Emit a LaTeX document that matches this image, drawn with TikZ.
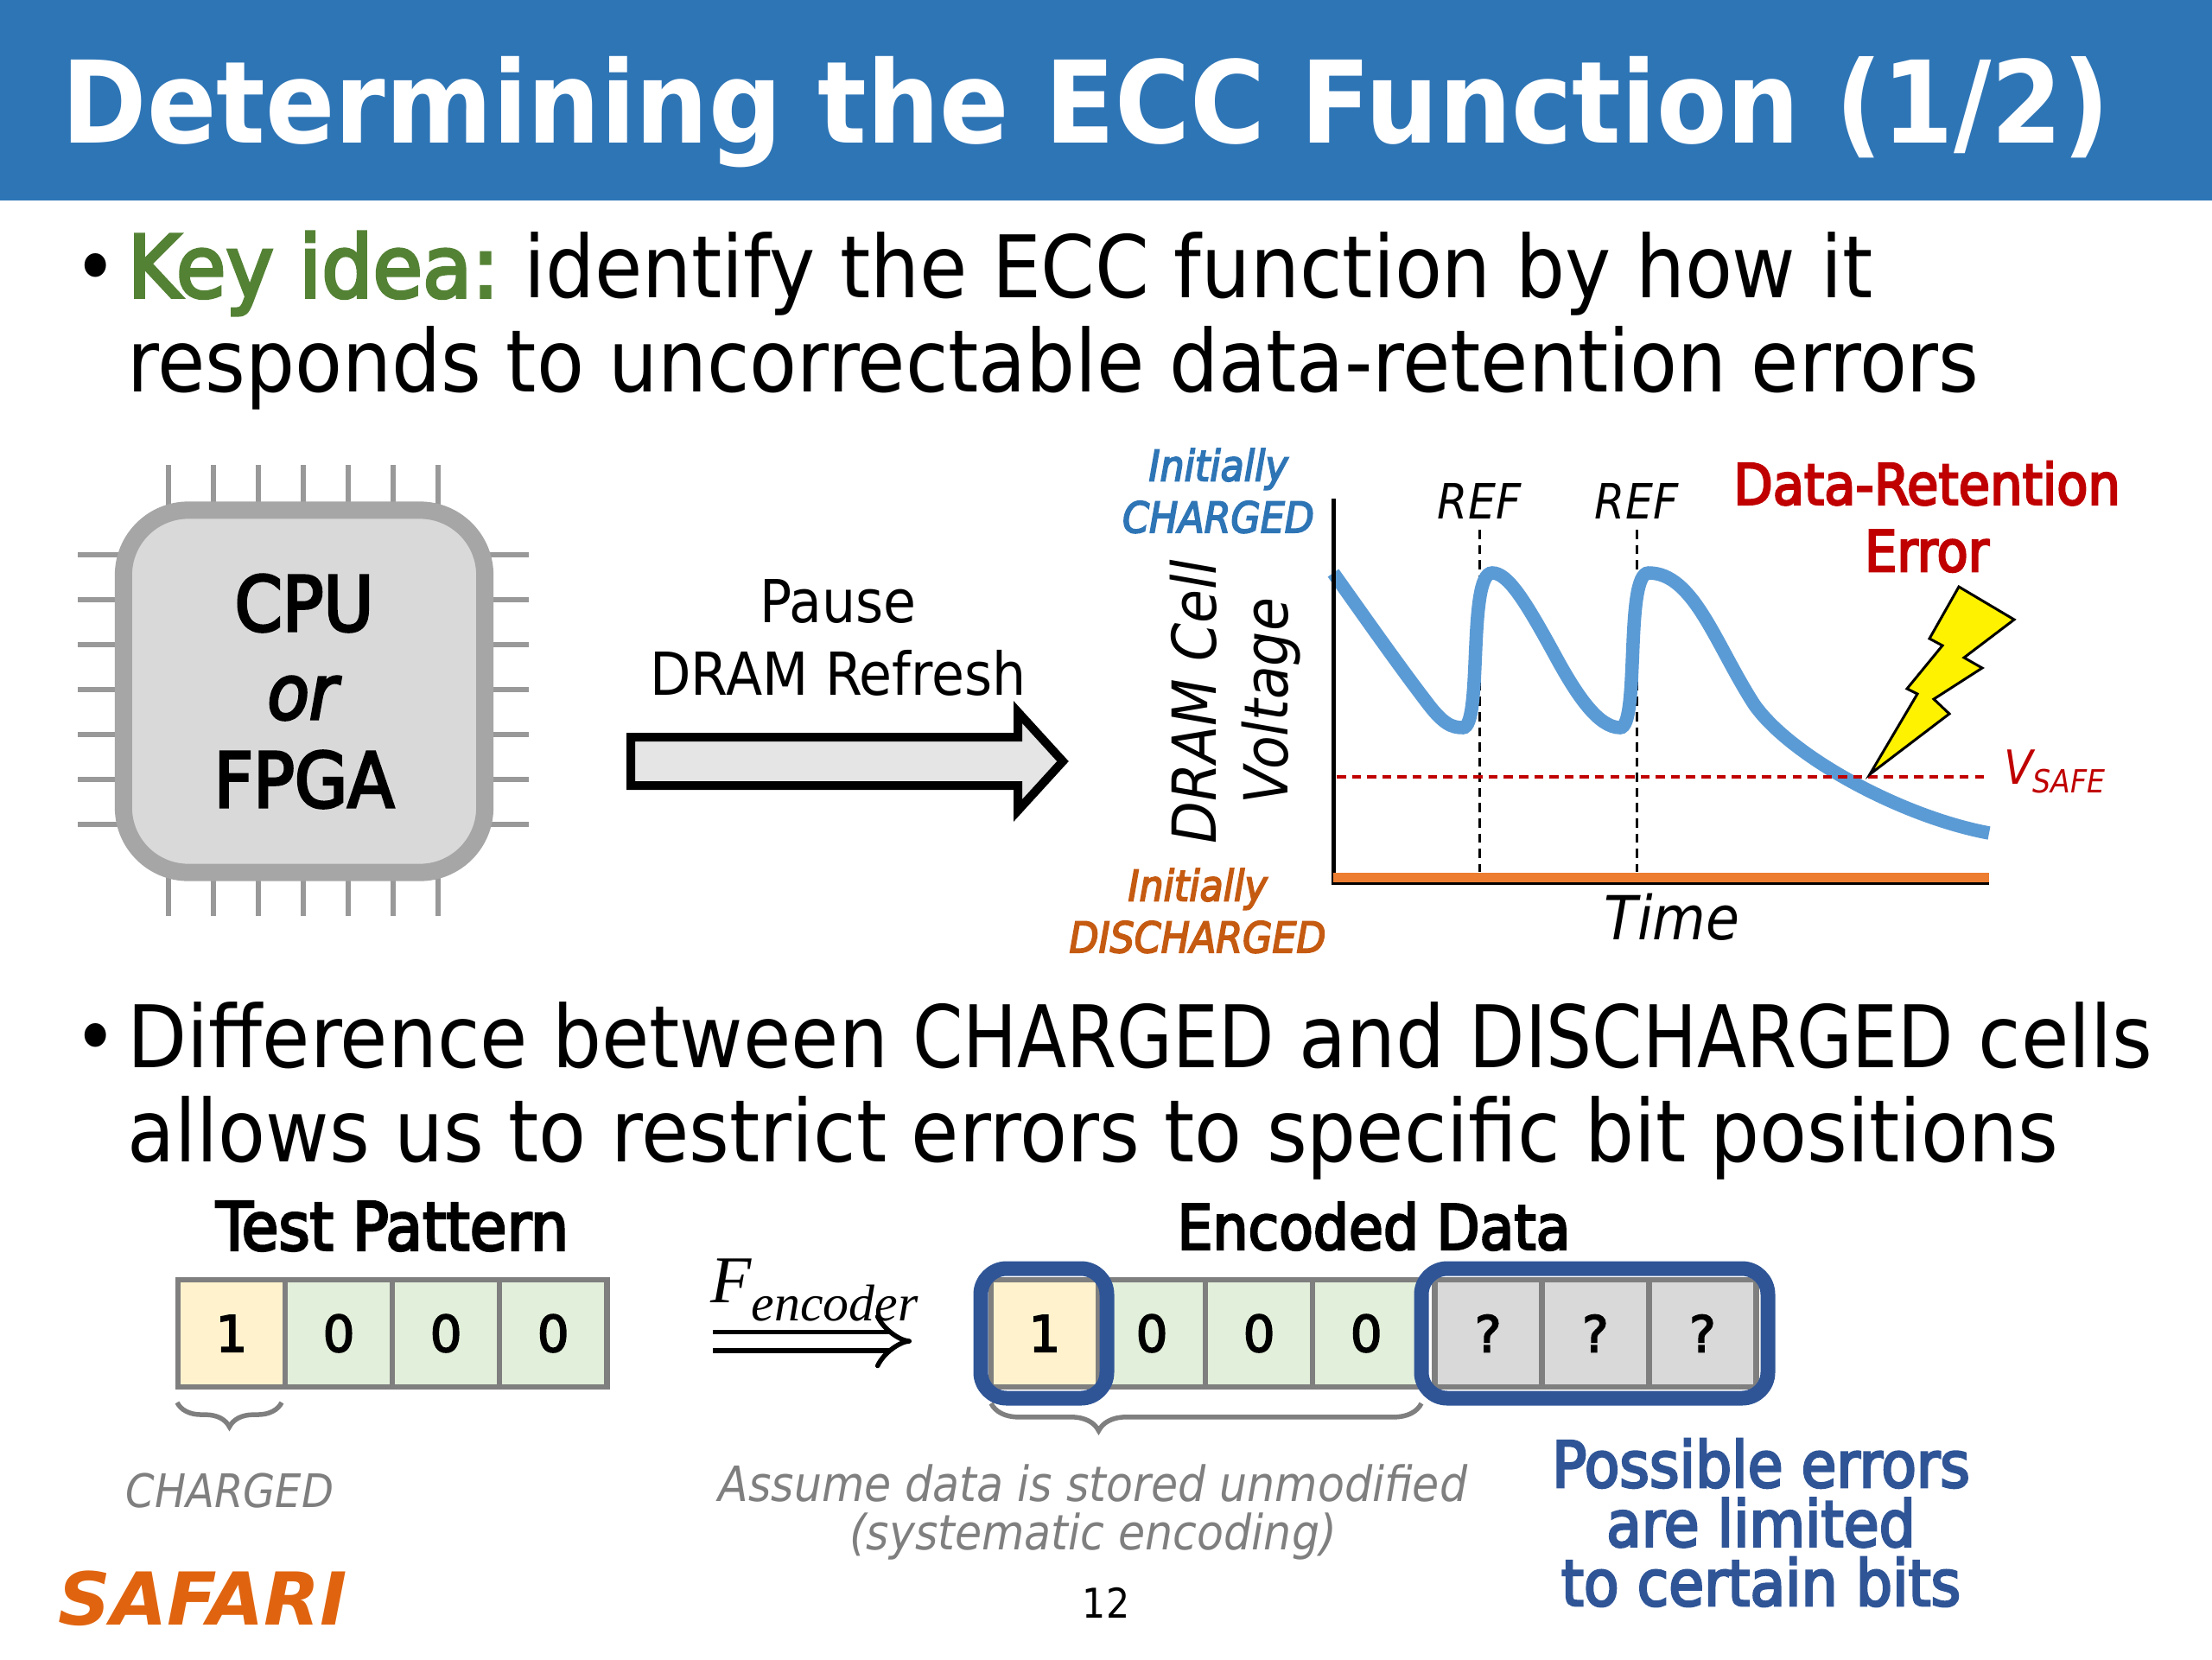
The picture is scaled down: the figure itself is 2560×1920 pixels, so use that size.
\documentclass[tikz,border=0pt]{standalone}
\usepackage{xcolor}
\usepackage{graphicx}
\usepackage{fontspec}
\usepackage{tikz}
\usetikzlibrary{arrows.meta, positioning, decorations.pathreplacing}
\setmainfont{DejaVu Sans Condensed}[BoldFont={DejaVu Sans Condensed},BoldFeatures={FakeBold=3.5},ItalicFont={DejaVu Sans Condensed Oblique},BoldItalicFont={DejaVu Sans Condensed Oblique},BoldItalicFeatures={FakeBold=3.5}]
\newfontfamily\widefont{DejaVu Sans}
\newfontfamily\titlefont{DejaVu Sans Condensed Bold}
\newfontfamily\bitfont{DejaVu Sans}[FakeBold=3]
\newfontfamily\serifitalic{Liberation Serif Italic}
\newcommand{\capsword}[1]{\scalebox{0.93}[1]{#1}}
\definecolor{slideblue}{HTML}{2E75B6}
\definecolor{curveblue}{HTML}{5B9BD5}
\definecolor{ringblue}{HTML}{2F5597}
\definecolor{keygreen}{HTML}{548235}
\definecolor{errred}{HTML}{C00000}
\definecolor{lineorange}{HTML}{ED7D31}
\definecolor{textorange}{HTML}{C55A11}
\definecolor{logoorange}{HTML}{E0640F}
\definecolor{cellgray}{HTML}{7F7F7F}
\definecolor{cellone}{HTML}{FFF2CC}
\definecolor{cellzero}{HTML}{E2EFDA}
\definecolor{cellunknown}{HTML}{D9D9D9}

\begin{document}
\begin{tikzpicture}[
    x=0.01cm, y=-0.01cm,
    bullettext/.style={anchor=west, inner sep=0pt, align=left, font=\fontsize{28.4}{31}\selectfont},
    dotmark/.style={font=\fontsize{27}{27}\selectfont},
    pin/.style={draw=gray!80, line width=0.06cm},
    chip/.style={rectangle, rounded corners=0.75cm, draw=black!35, fill=black!15, line width=0.2cm, minimum width=4.18cm, minimum height=4.19cm, align=center, font=\fontsize{25}{29}\selectfont},
    pausetext/.style={align=center, font=\fontsize{19.5}{24}\selectfont},
    chartlabel/.style={align=center, font=\fontsize{14}{17}\selectfont\bfseries\itshape},
    axislabel/.style={font=\fontsize{20}{24}\selectfont\itshape},
    reflabel/.style={font=\fontsize{16}{19}\selectfont\itshape},
    refline/.style={densely dashed, line width=0.03cm},
    heading/.style={font=\fontsize{20.5}{24}\selectfont\bfseries},
    bit/.style={rectangle, draw=cellgray, line width=0.065cm, outer sep=0pt, minimum width=1.24cm, minimum height=1.24cm, inner sep=0pt, font=\bitfont\fontsize{16.5}{20}\selectfont},
    bitone/.style={bit, fill=cellone},
    bitzero/.style={bit, fill=cellzero},
    bitunknown/.style={bit, fill=cellunknown},
    brace/.style={decorate, draw=cellgray, line width=0.055cm},
    ring/.style={draw=ringblue, line width=0.17cm, rounded corners=0.3cm},
    note/.style={text=cellgray, align=center, font=\fontsize{16}{16}\selectfont\itshape}
]
\path[use as bounding box, fill=white] (0,0) rectangle (2560,1920);
\fill[slideblue] (0,0) rectangle (2560,232);
\node[anchor=west, inner sep=0pt, text=white, font=\titlefont\fontsize{37.5}{44}\selectfont] (title) at (71,130) {Determining the ECC Function (1/2)};

\node[dotmark] (dot1) at (111,318) {•};
\node[bullettext] (idea) at (147,371) {\textcolor{keygreen}{\scalebox{1.04}[1]{\textbf{Key idea:}}} identify the ECC function by how it\\responds to uncorrectable data-retention errors};

\foreach \i in {0,...,6} {
    \draw[pin] (195+52*\i,538) -- (195+52*\i,1060);
    \draw[pin] (90,642+52*\i) -- (612,642+52*\i);
}
\node[chip] (cpu) at (352,800) {\textbf{CPU}\\\textbf{\textit{or}}\\\textbf{FPGA}};

\node[pausetext] (pause) at (970,738) {Pause\\DRAM Refresh};
\draw[line width=0.1cm, fill=black!10, miter limit=10] (730,853) -- (1178,853) -- (1178,824) -- (1230,881) -- (1178,938) -- (1178,909) -- (730,909) -- cycle;

\coordinate (axtop) at (1543,577);
\coordinate (axorigin) at (1543,1021);
\coordinate (axend) at (2302,1021);
\coordinate (orangeleft) at (1543,1015);
\coordinate (orangeright) at (2302,1015);
\coordinate (ref1end) at (1712,1009);
\coordinate (ref2end) at (1894,1009);
\coordinate (safeleft) at (1547,899);
\coordinate (saferight) at (2298,899);

\node[reflabel] (ref1) at (1712,580) {REF};
\node[reflabel] (ref2) at (1894,580) {REF};
\draw[refline] (ref1.south) -- (ref1end);
\draw[refline] (ref2.south) -- (ref2end);
\draw[draw=curveblue, line width=0.155cm] (1543,663) .. controls (1575,708) and (1620,772) .. (1650,811) .. controls (1670,838) and (1680,842) .. (1693,842) .. controls (1716,842) and (1698,663) .. (1727,663) .. controls (1745,663) and (1765,695) .. (1800,759) .. controls (1825,805) and (1850,842) .. (1875,842) .. controls (1898,842) and (1880,663) .. (1908,663) .. controls (1960,663) and (1985,745) .. (2030,815) .. controls (2072,875) and (2200,945) .. (2302,964);
\draw[errred, densely dashed, line width=0.035cm] (safeleft) -- (saferight);
\draw[black, line width=0.05cm] (axtop) -- (axorigin) -- (axend);
\draw[lineorange, line width=0.11cm] (orangeleft) -- (orangeright);

\node[chartlabel, text=slideblue] (charged) at (1410,568) {Initially\\CHARGED};
\node[chartlabel, text=textorange] (discharged) at (1386,1054) {Initially\\DISCHARGED};
\node[axislabel, rotate=90] (dramcell) at (1381,812) {DRAM Cell};
\node[axislabel, rotate=90] (voltage) at (1471,811) {Voltage};
\node[axislabel] (time) at (1935,1061) {Time};
\node[align=center, text=errred, font=\fontsize{18.7}{22}\selectfont\bfseries] (dataerr) at (2230,598) {Data-Retention\\Error};
\node[text=errred, font=\fontsize{15.5}{19}\selectfont\itshape] (vsafe) at (2378,893) {V\raisebox{-3pt}{\fontsize{10.5}{13}\selectfont SAFE}};
\draw[fill=yellow, line width=0.03cm, miter limit=10] (2267,679) -- (2331,717) -- (2273,761) -- (2294,773) -- (2238,809) -- (2256,826) -- (2164,896) -- (2219,803) -- (2207,797) -- (2248,747) -- (2233,739) -- cycle;

\node[dotmark] (dot2) at (111,1209) {•};
\node[bullettext] (diff) at (147,1262) {Difference between \capsword{CHARGED} and \capsword{DISCHARGED} cells\\allows us to restrict errors to specific bit positions};

\node[bitone] (t1) at (268,1543) {1};
\node[bitzero, right=0pt of t1] (t2) {0};
\node[bitzero, right=0pt of t2] (t3) {0};
\node[bitzero, right=0pt of t3] (t4) {0};
\node[heading, font=\fontsize{22}{24}\selectfont\bfseries] (testpat) at (454,1419) {Test Pattern};
\draw[brace, decoration={brace, mirror, amplitude=8pt}] (205,1623) -- (326,1623);
\node[note, font=\fontsize{15.2}{16}\selectfont\itshape] (chargednote) at (266,1725) {CHARGED};

\node[anchor=west, inner sep=0pt, font=\serifitalic\fontsize{22}{22}\selectfont] (fenc) at (822,1493) {F\raisebox{-6pt}{\fontsize{17}{17}\selectfont encoder}};
\coordinate (encleft) at (825,1552);
\coordinate (encright) at (1055,1552);
\draw[double, double distance=0.16cm, line width=0.055cm, -{Implies}] (encleft) -- (encright);

\node[bitone] (e1) at (1209,1543) {1};
\node[bitzero, right=0pt of e1] (e2) {0};
\node[bitzero, right=0pt of e2] (e3) {0};
\node[bitzero, right=0pt of e3] (e4) {0};
\node[bitunknown, right=0.17cm of e4] (e5) {?};
\node[bitunknown, right=0pt of e5] (e6) {?};
\node[bitunknown, right=0pt of e6] (e7) {?};
\node[heading] (encoded) at (1590,1419) {Encoded Data};
\draw[brace, decoration={brace, mirror, amplitude=9pt, aspect=0.25}] (1147,1624) -- (1645,1624);
\draw[ring] (1135,1468) rectangle (1281,1618);
\draw[ring] (1645,1468) rectangle (2046,1618);

\node[note] (assume) at (1265,1750) {Assume data is stored unmodified\\(systematic encoding)};
\node[align=center, text=ringblue, font=\fontsize{21}{19.5}\selectfont\bfseries] (possible) at (2038,1762) {Possible errors\\are limited\\to certain bits};
\node[text=logoorange, font=\widefont\fontsize{24}{28}\selectfont\bfseries\itshape] (safari) at (235,1850) {SAFARI};
\node[font=\fontsize{13.5}{16}\selectfont] (pagenum) at (1280,1855) {12};
\end{tikzpicture}
\end{document}
